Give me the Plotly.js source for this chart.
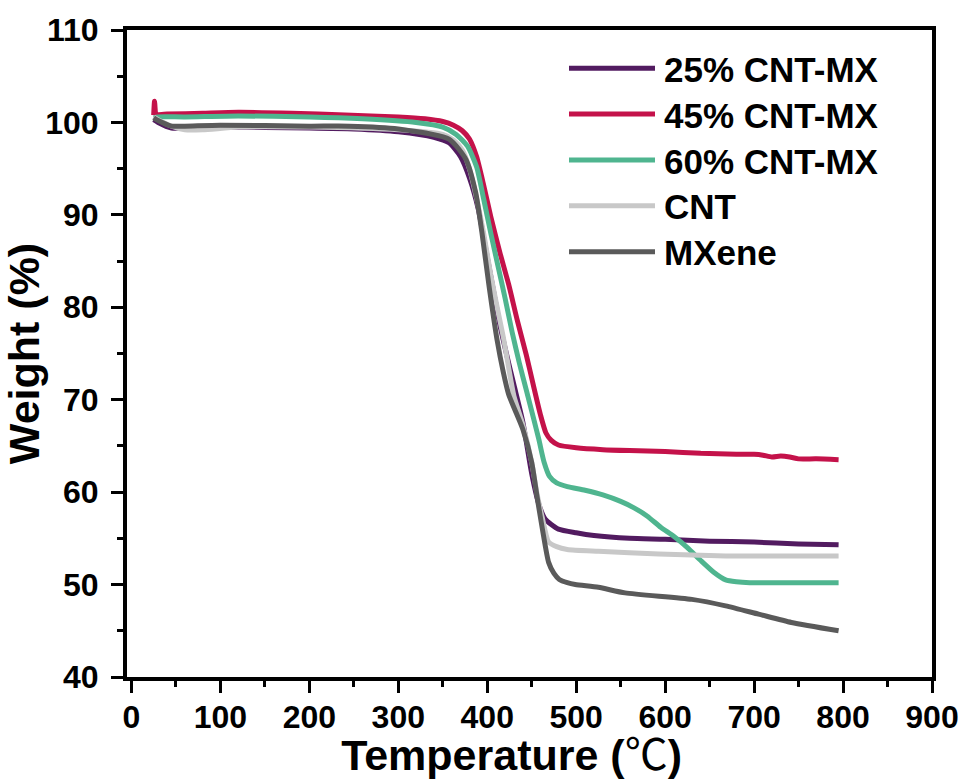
<!DOCTYPE html>
<html>
<head>
<meta charset="utf-8">
<script src="https://cdn.plot.ly/plotly-3.0.1.min.js"></script>
<style>
html,body{margin:0;padding:0;background:#fff;}
#chart{width:967px;height:782px;}
</style>
</head>
<body>
<div id="chart"></div>
<script>
// ---- Data ----
const seriesNames = ["25% CNT-MX", "45% CNT-MX", "60% CNT-MX", "CNT", "MXene"];
const seriesColors = ["#521b60", "#c4124a", "#4fb58f", "#c8c8c8", "#5a5a5a"];

const t25 = [25, 30, 45, 60, 100, 200, 250, 300, 340, 357, 370, 380, 390, 398, 406, 414, 422, 430, 440, 450, 458, 465, 472, 480, 500, 520, 560, 600, 650, 700, 750, 795];
const w25 = [100.3, 100.0, 99.4, 99.4, 99.5, 99.4, 99.3, 99.0, 98.4, 97.8, 96.3, 94.0, 90.6, 86.5, 82.3, 78.2, 74.8, 71.6, 67.6, 62.0, 58.7, 57.1, 56.5, 56.0, 55.6, 55.3, 55.0, 54.9, 54.7, 54.6, 54.4, 54.3];

const t45 = [25, 26, 28, 40, 80, 120, 180, 240, 300, 330, 350, 362, 372, 380, 388, 396, 404, 414, 424, 434, 444, 452, 460, 466, 472, 480, 500, 530, 560, 600, 640, 680, 700, 710, 720, 730, 740, 750, 770, 795];
const w45 = [100.8, 102.3, 100.9, 100.9, 101.0, 101.1, 101.0, 100.8, 100.6, 100.4, 100.1, 99.7, 99.1, 98.2, 96.3, 93.2, 89.8, 86.0, 82.5, 78.5, 74.8, 71.5, 68.3, 66.4, 65.6, 65.1, 64.8, 64.6, 64.5, 64.4, 64.2, 64.1, 64.1, 64.0, 63.8, 63.9, 63.8, 63.6, 63.6, 63.5];

const t60 = [25, 30, 60, 120, 200, 260, 320, 350, 365, 378, 388, 396, 404, 412, 420, 428, 436, 444, 452, 458, 464, 470, 478, 490, 510, 530, 550, 565, 580, 595, 610, 625, 640, 655, 668, 680, 695, 740, 795];
const w60 = [100.5, 100.6, 100.6, 100.7, 100.6, 100.4, 100.0, 99.5, 98.7, 97.4, 95.2, 91.7, 88.0, 84.5, 81.0, 77.3, 74.0, 71.0, 68.0, 65.7, 63.2, 61.7, 61.0, 60.6, 60.2, 59.7, 59.0, 58.3, 57.4, 56.2, 55.2, 54.0, 52.6, 51.3, 50.5, 50.3, 50.2, 50.2, 50.2];

const tCNT = [25, 30, 45, 60, 80, 120, 200, 300, 350, 362, 372, 380, 388, 396, 404, 412, 418, 424, 430, 440, 450, 456, 462, 469, 478, 490, 525, 593, 668, 720, 795];
const wCNT = [100.6, 100.3, 99.6, 99.2, 99.2, 99.5, 99.5, 99.2, 98.7, 98.1, 97.0, 95.0, 91.8, 88.0, 83.5, 79.6, 76.8, 73.5, 70.4, 67.3, 63.2, 59.8, 57.2, 54.6, 54.1, 53.8, 53.6, 53.3, 53.1, 53.1, 53.1];

const tMX = [25, 30, 45, 60, 100, 200, 245, 300, 357, 376, 387, 394, 402, 411, 418, 424, 432, 440, 450, 456, 462, 469, 475, 481, 490, 499, 525, 555, 630, 668, 705, 742, 795];
const wMX = [100.5, 100.2, 99.6, 99.6, 99.7, 99.6, 99.6, 99.3, 98.2, 96.0, 92.4, 88.1, 82.3, 76.5, 73.0, 70.6, 68.7, 66.8, 63.2, 59.5, 56.0, 52.4, 51.2, 50.55, 50.2, 50.0, 49.7, 49.1, 48.4, 47.7, 46.8, 45.9, 45.0];

const xs = [t25, t45, t60, tCNT, tMX];
const ys = [w25, w45, w60, wCNT, wMX];

const xTickVals = [0, 100, 200, 300, 400, 500, 600, 700, 800, 900];
const yTickVals = [40, 50, 60, 70, 80, 90, 100, 110];

// ---- Traces ----
const traces = seriesNames.map((n, i) => ({
  type: 'scatter', mode: 'lines', name: n,
  x: xs[i], y: ys[i],
  line: {color: seriesColors[i], width: 5, shape: 'spline', smoothing: 0.6},
  showlegend: false, hoverinfo: 'skip'
}));

// ---- Layout geometry (pixels) ----
const W = 967, H = 782;
const mL = 127, mR = 35, mT = 30, mB = 105;
const plotW = W - mL - mR, plotH = H - mT - mB;
const px2x = p => (p - mL) / plotW;
const py2y = p => (H - mB - p) / plotH;

const fontFam = 'Liberation Sans, Arial, Helvetica, sans-serif';

// custom legend (long line samples as in the reference)
const legRows = [68.3, 114, 160, 205.7, 251.7];
const shapes = [], annotations = [];
seriesNames.forEach((n, i) => {
  shapes.push({type: 'line', xref: 'paper', yref: 'paper',
    x0: px2x(569), x1: px2x(655), y0: py2y(legRows[i]), y1: py2y(legRows[i]),
    line: {color: seriesColors[i], width: 5}, layer: 'above'});
  annotations.push({xref: 'paper', yref: 'paper', x: px2x(662), y: py2y(legRows[i] + 1),
    xanchor: 'left', yanchor: 'middle', showarrow: false, text: n,
    font: {family: fontFam, size: 35, color: '#000', weight: 'bold'}});
});

const axisCommon = {
  showline: true, linecolor: '#000', linewidth: 4, mirror: true,
  ticks: 'outside', ticklen: 12, tickwidth: 3, tickcolor: '#000',
  showgrid: false, zeroline: false,
  tickfont: {family: fontFam, size: 32, color: '#000', weight: 'bold'},
  minor: {ticks: 'outside', ticklen: 6, tickwidth: 3, tickcolor: '#000', showgrid: false}
};

const layout = {
  width: W, height: H,
  margin: {l: mL, r: mR, t: mT, b: mB, pad: 0},
  paper_bgcolor: '#fff', plot_bgcolor: '#fff',
  showlegend: false,
  xaxis: Object.assign({}, axisCommon, {
    range: [-5, 900], tickmode: 'array', tickvals: xTickVals,
    minor: Object.assign({}, axisCommon.minor, {dtick: 50, tick0: 0}),
    ticklabelstandoff: -3,
    title: {text: 'Temperature (<span style="font-family:Noto Sans CJK SC;font-weight:normal">℃</span>)&nbsp;&nbsp;&nbsp;',
      font: {family: fontFam, size: 43, color: '#000', weight: 'bold'}, standoff: 8}
  }),
  yaxis: Object.assign({}, axisCommon, {
    range: [40, 110], tickmode: 'array', tickvals: yTickVals,
    minor: Object.assign({}, axisCommon.minor, {dtick: 5, tick0: 40}),
    ticklabelstandoff: 6,
    title: {text: 'Weight (%)', font: {family: fontFam, size: 43, color: '#000', weight: 'bold'}, standoff: 0}
  }),
  shapes: shapes,
  annotations: annotations
};

Plotly.newPlot('chart', traces, layout, {displayModeBar: false, staticPlot: true});
</script>
</body>
</html>
